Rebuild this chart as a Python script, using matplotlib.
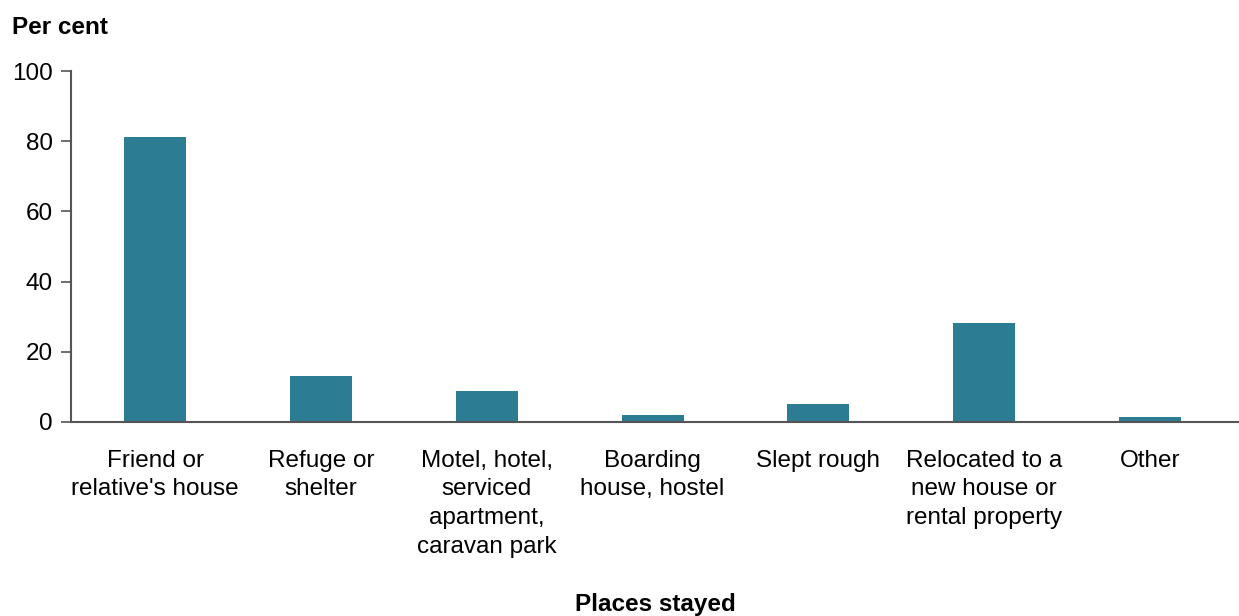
import matplotlib.pyplot as plt
import numpy as np

plt.rcParams['font.family'] = ['Liberation Sans', 'DejaVu Sans']

categories = ["Friend or\nrelative's house", "Refuge or\nshelter",
              "Motel, hotel,\nserviced\napartment,\ncaravan park",
              "Boarding\nhouse, hostel", "Slept rough",
              "Relocated to a\nnew house or\nrental property", "Other"]
values = [81.2, 13.0, 8.7, 1.9, 5.2, 28.1, 1.4]

fig = plt.figure(figsize=(12.39, 6.16), dpi=100)
ax = fig.add_axes([71 / 1239, 194 / 616, 1 - 71 / 1239, 351 / 616])

x = np.arange(len(categories))
ax.bar(x, values, width=0.374, color='#2c7c94')

ax.set_xlim(-0.507, len(categories) - 0.463)
ax.set_ylim(0, 100)
ax.set_yticks([0, 20, 40, 60, 80, 100])
ax.set_xticks(x)
ax.set_xticklabels(categories, fontsize=17.5, linespacing=1.39)
ax.tick_params(axis='x', length=0, pad=20)
ax.tick_params(axis='y', labelsize=17.5, length=7, width=1.2, color='#555555', pad=6)

for s in ['top', 'right']:
    ax.spines[s].set_visible(False)
for s in ['left', 'bottom']:
    ax.spines[s].set_color('#555555')
    ax.spines[s].set_linewidth(1.5)

fig.text(12 / 1239, 1 - 27 / 616, 'Per cent', fontsize=17.5, fontweight='bold', va='center', ha='left')
fig.text(655 / 1239, 1 - 605 / 616, 'Places stayed', fontsize=17.5, fontweight='bold', va='center', ha='center')

fig.savefig('out.png', dpi=100)
